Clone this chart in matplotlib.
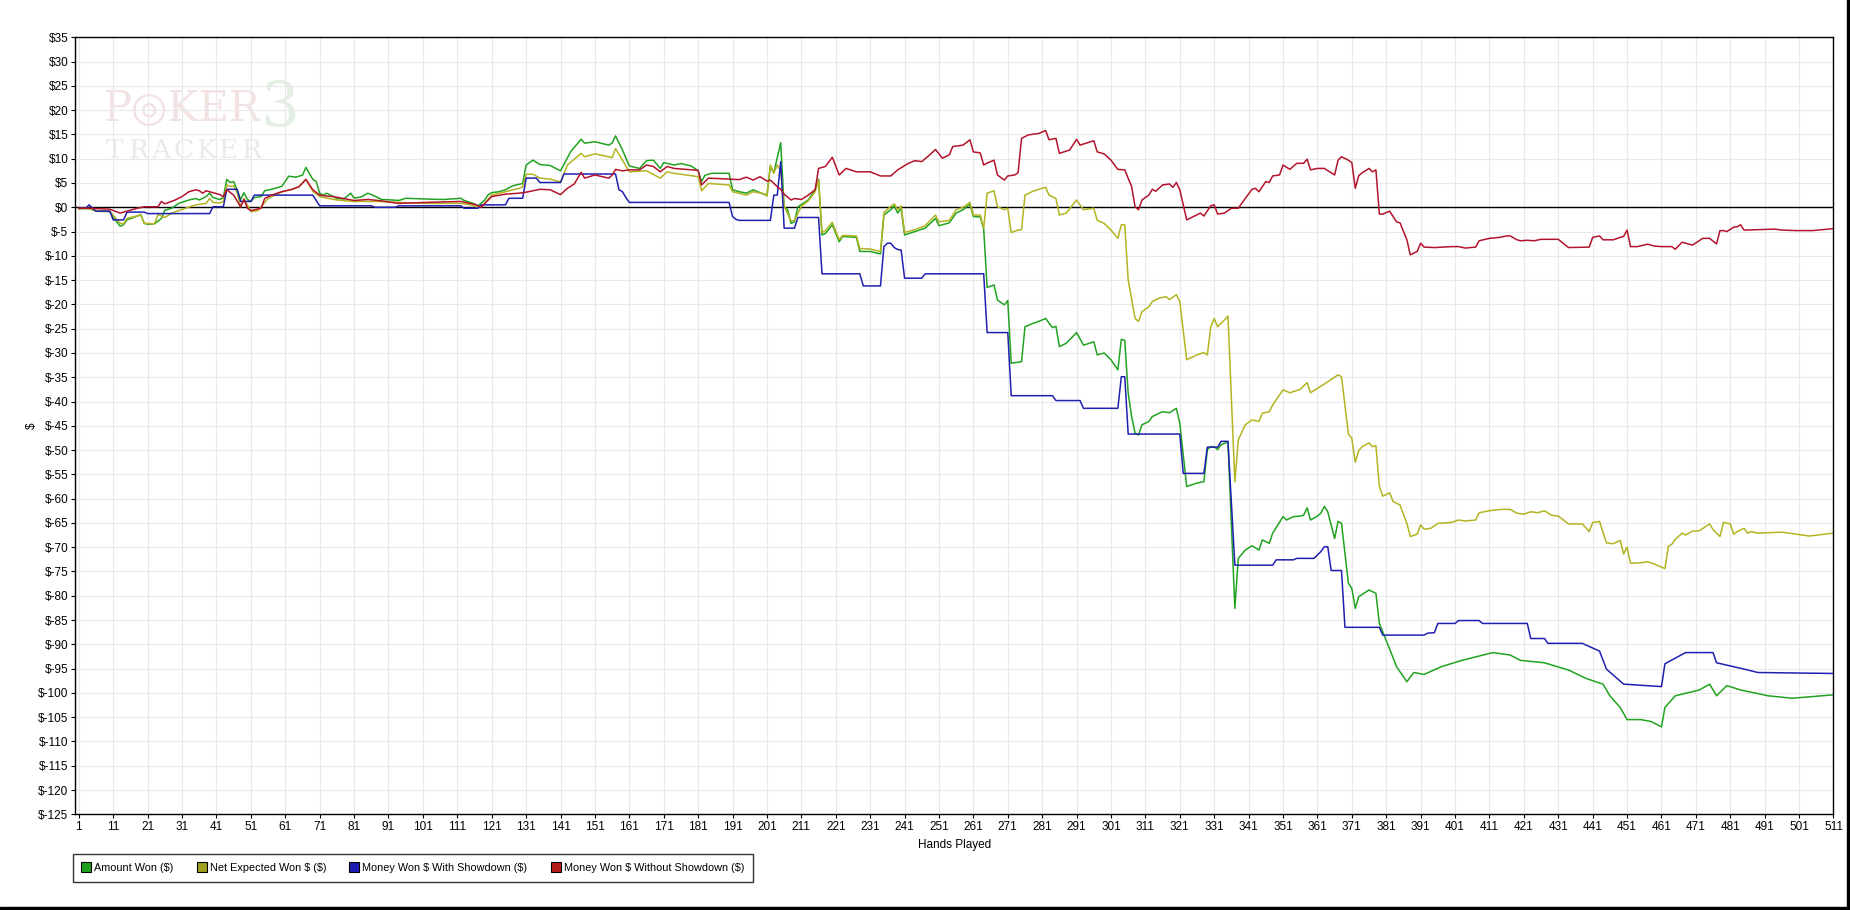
import matplotlib.pyplot as plt
from matplotlib.lines import Line2D
from matplotlib.patches import Rectangle

# values, hand number -> dollars
amount_hands = [1, 3, 4, 6, 10, 11, 12, 13, 14, 15, 18, 19, 20, 21, 23, 25, 26, 28, 30, 33, 35, 36, 38, 39, 40,
                42, 43, 44, 45, 46, 47, 48, 49, 50, 51, 52, 54, 55, 57, 60, 62, 64, 66, 67, 69, 70, 71, 72, 73, 75,
                76, 78, 80, 81, 83, 85, 87, 89, 92, 94, 96, 102, 107, 112, 113, 116, 117, 119, 120, 121, 123, 125,
                127, 130, 131, 133, 135, 138, 141, 144, 147, 148, 151, 155, 156, 157, 159, 161, 164, 166, 168, 170,
                171, 174, 176, 179, 181, 182, 183, 185, 190, 191, 193, 195, 197, 200, 201, 202, 203, 205, 206, 207,
                208, 209, 210, 213, 215, 216, 217, 218, 220, 222, 223, 227, 228, 231, 234, 235, 237, 238, 239, 240,
                241, 244, 247, 250, 251, 254, 256, 258, 260, 261, 263, 264, 265, 267, 268, 270, 271, 272, 275, 276,
                278, 280, 282, 284, 285, 286, 288, 291, 293, 296, 297, 299, 301, 303, 304, 305, 306, 307, 308, 309,
                310, 312, 313, 315, 316, 318, 320, 321, 323, 326, 328, 329, 330, 331, 332, 333, 335, 337, 338, 340,
                342, 344, 345, 347, 348, 351, 352, 354, 356, 357, 358, 359, 361, 362, 363, 364, 366, 367, 368, 370,
                371, 372, 373, 376, 378, 379, 381, 384, 387, 389, 392, 397, 403, 412, 417, 420, 427, 434, 439, 444,
                446, 449, 451, 455, 458, 461, 462, 465, 472, 475, 477, 480, 484, 492, 499, 511]
amount_won = [-0.3, -0.2, -0.3, -0.8, -0.9, -2.0, -3.0, -3.9, -3.6, -2.6, -1.8, -1.5, -3.3, -3.5, -3.4, -2.3, -0.6,
              -0.2, 0.8, 1.5, 1.8, 1.5, 2.2, 2.9, 2.0, 1.6, 2.0, 5.75, 5.1, 5.3, 3.6, 1.6, 3.0, 1.6, 1.2, 2.0, 2.2,
              3.4, 3.7, 4.3, 6.4, 6.2, 6.6, 8.2, 5.75, 5.3, 2.9, 2.5, 2.9, 2.2, 1.8, 1.7, 2.9, 1.9, 2.1, 2.9, 2.3,
              1.6, 1.5, 1.4, 1.85, 1.7, 1.6, 1.85, 1.4, 0.7, 0.3, 1.5, 2.6, 3.0, 3.2, 3.6, 4.4, 4.9, 8.7, 9.7, 8.8,
              8.6, 7.5, 11.5, 14.0, 13.2, 13.5, 12.8, 13.2, 14.7, 11.8, 8.5, 8.0, 9.6, 9.7, 8.0, 9.2, 8.7, 9.0, 8.5,
              7.5, 5.3, 6.6, 7.0, 7.0, 3.6, 3.2, 2.9, 3.6, 2.7, 2.5, 8.4, 7.1, 13.3, 0.1, -0.5, -3.3, -3.0, 0.1,
              1.5, 3.6, 5.8, -5.7, -5.4, -3.6, -7.1, -6.0, -6.2, -9.1, -9.1, -9.6, -1.6, -0.5, 0.3, -1.2, -0.2,
              -5.7, -5.0, -4.3, -2.3, -3.8, -3.2, -1.2, -0.5, 0.6, -1.9, -2.0, -4.5, -16.5, -16.0, -19.1, -20.1,
              -19.2, -32.1, -31.8, -24.6, -24.0, -23.5, -22.9, -24.8, -24.5, -28.7, -28.0, -25.8, -28.4, -27.7,
              -30.4, -30.0, -31.4, -33.5, -27.2, -27.4, -38.3, -43.1, -46.5, -46.9, -44.8, -44.1, -43.1, -42.4,
              -42.1, -42.3, -41.4, -44.5, -57.5, -56.8, -56.5, -49.9, -49.3, -49.3, -49.9, -48.9, -48.3, -82.6,
              -72.3, -70.6, -69.7, -70.6, -68.5, -69.2, -67.1, -63.7, -64.4, -63.7, -63.6, -63.4, -61.9, -64.4,
              -63.6, -63.0, -61.6, -62.7, -68.2, -64.7, -65.1, -77.4, -78.5, -82.6, -80.2, -78.8, -79.5, -85.7,
              -89.2, -94.6, -97.7, -95.8, -96.2, -94.6, -93.3, -91.7, -92.2, -93.3, -93.8, -95.3, -97.0, -98.2,
              -100.6, -103.0, -105.5, -105.5, -105.9, -107.0, -103.0, -100.6, -99.4, -98.2, -100.6, -98.5, -99.4,
              -100.6, -101.1, -100.4]

expected_hands = [1, 4, 6, 10, 12, 13, 14, 15, 19, 20, 23, 24, 26, 28, 32, 35, 38, 39, 40, 42, 43, 44, 45, 46, 47,
                  48, 49, 51, 53, 54, 56, 58, 60, 63, 65, 67, 69, 71, 73, 76, 81, 88, 94, 102, 112, 115, 117, 119,
                  121, 125, 129, 130, 131, 133, 135, 138, 141, 143, 147, 148, 151, 155, 156, 157, 159, 161, 166, 170,
                  172, 174, 179, 181, 182, 184, 190, 191, 195, 197, 200, 201, 202, 203, 204, 205, 206, 207, 208, 209,
                  211, 213, 215, 216, 217, 218, 220, 222, 223, 227, 228, 231, 234, 235, 237, 238, 239, 240, 241, 244,
                  247, 250, 251, 254, 256, 258, 260, 261, 263, 264, 265, 267, 268, 270, 271, 272, 274, 275, 276, 278,
                  280, 282, 283, 285, 286, 288, 291, 293, 296, 297, 299, 301, 303, 304, 305, 306, 308, 309, 310, 312,
                  313, 315, 317, 318, 320, 321, 323, 326, 328, 329, 330, 331, 332, 334, 335, 337, 338, 340, 342, 344,
                  345, 347, 348, 351, 353, 356, 358, 359, 363, 367, 368, 370, 371, 372, 373, 374, 376, 377, 378, 379,
                  380, 382, 383, 385, 387, 388, 390, 391, 392, 394, 396, 400, 402, 404, 407, 408, 411, 413, 415, 417,
                  419, 421, 423, 425, 427, 429, 431, 434, 438, 440, 441, 443, 445, 447, 449, 450, 451, 452, 455, 457,
                  459, 462, 463, 464, 465, 467, 468, 470, 472, 475, 476, 478, 479, 481, 482, 483, 485, 486, 487, 489,
                  496, 500, 504, 511]
expected_won = [-0.3, -0.3, -0.7, -0.8, -2.5, -3.3, -3.4, -2.3, -1.6, -3.3, -3.4, -1.5, -2.1, -1.2, -0.2, 0.5, 0.8,
                1.8, 1.0, 0.9, 1.2, 4.6, 4.3, 4.4, 3.0, 0.1, 1.8, -0.9, -0.7, 0.1, 1.8, 2.5, 3.2, 3.7, 4.25, 5.75,
                3.3, 2.2, 1.9, 1.5, 1.2, 1.2, 1.0, 0.8, 0.8, 0.5, -0.1, 0.8, 2.5, 3.2, 3.9, 4.2, 6.8, 6.8, 6.0, 5.8,
                5.2, 8.7, 11.1, 10.4, 11.0, 10.4, 10.2, 12.1, 9.7, 7.3, 7.5, 6.0, 7.3, 7.0, 6.5, 6.3, 3.4, 4.9, 4.6,
                3.2, 2.5, 3.2, 2.8, 2.3, 8.7, 7.0, 8.7, 7.5, 0.3, -1.3, -2.8, -2.7, 0.2, 1.3, 3.2, 5.6, -5.2, -4.8,
                -3.1, -6.7, -5.8, -5.9, -8.5, -8.6, -9.1, -1.1, 0.2, 0.7, -0.5, 0.3, -5.2, -4.6, -3.8, -1.6, -3.0,
                -2.7, -0.5, 0.0, 1.0, -1.6, -1.6, -4.3, 2.9, 3.4, 0.1, -0.5, -0.2, -5.2, -4.7, -4.6, 2.5, 3.2, 3.7,
                4.1, 2.5, 1.8, -1.6, -1.2, 1.5, -0.5, -0.2, -2.7, -3.3, -4.7, -6.4, -3.6, -3.6, -15.0, -22.9, -23.5,
                -21.5, -20.5, -19.4, -18.7, -18.4, -19.0, -18.0, -19.4, -31.4, -30.4, -29.9, -30.4, -24.6, -22.9,
                -24.6, -23.2, -22.4, -56.5, -47.9, -44.8, -43.8, -44.1, -42.4, -42.1, -40.7, -37.6, -38.2, -37.5,
                -36.1, -38.2, -36.4, -34.5, -34.9, -46.7, -47.6, -52.5, -50.1, -49.3, -48.5, -49.3, -49.1, -57.5,
                -59.5, -58.8, -60.6, -61.3, -65.1, -67.8, -67.3, -65.4, -66.3, -66.1, -65.1, -64.9, -64.4, -64.6,
                -64.4, -62.9, -62.5, -62.3, -62.2, -62.2, -63.0, -63.2, -62.7, -62.9, -62.5, -63.4, -63.6, -65.2,
                -65.2, -66.8, -64.9, -64.7, -69.1, -69.3, -68.6, -71.4, -70.0, -73.3, -73.2, -73.0, -73.5, -74.4,
                -69.8, -69.4, -68.4, -67.1, -67.5, -66.7, -66.6, -65.2, -66.4, -67.8, -64.9, -65.2, -67.3, -66.8,
                -66.1, -67.1, -66.8, -67.1, -66.9, -67.3, -67.7, -67.1]

showdown_hands = [1, 3, 4, 5, 6, 10, 11, 14, 15, 20, 21, 39, 40, 43, 44, 47, 48, 51, 52, 69, 71, 86, 87, 93, 94,
                  112, 113, 117, 118, 125, 126, 130, 131, 134, 135, 141, 142, 157, 158, 159, 160, 161, 190, 191, 192,
                  193, 202, 203, 204, 205, 206, 209, 210, 216, 217, 228, 229, 234, 235, 236, 237, 238, 239, 240, 241,
                  246, 247, 264, 265, 271, 272, 284, 285, 292, 293, 303, 304, 305, 306, 321, 322, 328, 329, 332, 333,
                  335, 337, 348, 349, 354, 355, 360, 362, 363, 364, 365, 368, 369, 379, 380, 392, 393, 395, 396, 401,
                  402, 408, 409, 422, 423, 427, 428, 438, 443, 445, 450, 461, 462, 468, 476, 477, 485, 489, 511]
showdown_won = [-0.2, -0.2, 0.5, -0.2, -0.8, -0.8, -2.6, -2.6, -1.0, -1.0, -1.3, -1.3, 0.1, 0.1, 3.7, 3.7, 1.2,
                1.2, 2.5, 2.5, 0.3, 0.3, 0.0, 0.0, 0.3, 0.3, -0.2, -0.2, 0.5, 0.5, 1.85, 1.85, 6.0, 6.0, 5.1, 5.1,
                6.85, 6.85, 3.6, 3.2, 2.0, 1.0, 1.0, -1.9, -2.5, -2.7, -2.7, 2.5, 2.5, 9.4, -4.3, -4.3, -2.1, -2.1,
                -13.7, -13.7, -16.2, -16.2, -8.1, -7.4, -7.4, -8.3, -8.7, -8.8, -14.6, -14.6, -13.7, -13.7, -25.8,
                -25.8, -38.8, -38.8, -39.8, -39.8, -41.4, -41.4, -34.9, -34.9, -46.7, -46.7, -54.8, -54.8, -49.4,
                -49.4, -48.2, -48.2, -73.7, -73.7, -72.6, -72.6, -72.3, -72.3, -70.9, -69.9, -69.9, -74.8, -74.8,
                -86.5, -86.5, -88.1, -88.1, -87.7, -87.6, -85.7, -85.7, -85.1, -85.1, -85.7, -85.7, -88.8, -88.8,
                -89.8, -89.8, -91.4, -95.1, -98.2, -98.7, -94.0, -91.7, -91.7, -93.8, -95.1, -95.8, -96.0]

no_showdown_hands = [1, 4, 10, 13, 15, 18, 20, 24, 25, 26, 29, 31, 33, 35, 36, 37, 38, 40, 42, 43, 44, 46, 48, 49,
                     50, 51, 54, 55, 57, 60, 63, 65, 67, 69, 71, 73, 75, 78, 81, 85, 88, 94, 102, 112, 116, 118, 119,
                     121, 125, 129, 131, 135, 138, 141, 143, 145, 147, 148, 151, 155, 156, 157, 159, 161, 164, 166,
                     168, 170, 172, 174, 179, 181, 182, 184, 190, 193, 195, 197, 199, 201, 202, 204, 205, 206, 208,
                     209, 211, 213, 215, 216, 218, 220, 222, 224, 227, 231, 234, 237, 239, 242, 244, 246, 248, 250,
                     252, 254, 255, 258, 260, 261, 263, 264, 265, 267, 268, 270, 271, 273, 274, 275, 277, 280, 282,
                     283, 285, 286, 289, 291, 292, 296, 297, 299, 301, 303, 305, 307, 308, 309, 310, 312, 313, 314,
                     316, 318, 319, 320, 321, 323, 325, 327, 328, 330, 331, 332, 334, 336, 338, 340, 342, 343, 344,
                     346, 347, 348, 350, 351, 353, 355, 357, 358, 359, 361, 363, 366, 367, 368, 370, 371, 372, 373,
                     374, 376, 377, 378, 379, 380, 382, 384, 385, 387, 388, 390, 391, 392, 395, 400, 402, 404, 407,
                     408, 411, 414, 416, 417, 419, 420, 422, 424, 426, 431, 434, 440, 441, 443, 444, 447, 449, 450,
                     451, 452, 454, 457, 459, 461, 464, 465, 467, 468, 470, 473, 475, 477, 478, 479, 480, 482, 483,
                     484, 485, 494, 496, 500, 505, 511]
no_showdown_won = [-0.2, -0.2, -0.4, -1.2, -0.8, -0.2, 0.1, 0.1, 1.2, 0.7, 1.5, 2.2, 3.2, 3.6, 3.4, 2.9, 3.4, 3.0,
                   2.6, 2.2, 3.6, 2.5, 0.1, 1.6, -0.2, -0.7, -0.2, 1.8, 2.5, 3.2, 3.7, 4.25, 5.75, 3.6, 2.5, 2.3,
                   2.2, 1.8, 1.4, 1.6, 1.4, 0.8, 1.0, 1.2, 0.6, 0.0, 0.8, 2.2, 2.7, 2.9, 3.1, 3.7, 3.6, 2.6, 3.9,
                   4.8, 7.2, 6.0, 6.65, 6.0, 6.6, 7.8, 7.5, 7.7, 7.7, 8.7, 8.4, 7.3, 8.4, 8.0, 7.7, 7.6, 4.6, 6.0,
                   5.8, 5.7, 6.2, 5.6, 6.3, 5.4, 5.6, 4.25, 3.7, 2.7, 1.5, 1.8, 1.6, 2.5, 3.6, 8.0, 8.4, 10.3, 6.65,
                   8.0, 7.3, 7.3, 6.45, 6.45, 7.7, 9.0, 9.6, 9.4, 10.6, 11.9, 10.1, 10.8, 12.5, 12.8, 13.9, 11.4,
                   11.2, 8.7, 9.1, 9.7, 6.65, 5.6, 6.45, 6.65, 7.1, 14.2, 14.9, 15.2, 15.8, 13.9, 14.2, 11.1, 11.8,
                   14.0, 12.8, 13.7, 11.4, 11.0, 9.7, 7.8, 7.7, 4.25, 0.1, -0.5, 1.5, 2.5, 3.7, 3.3, 4.6, 4.8, 4.1,
                   5.1, 3.6, -2.6, -1.9, -1.2, -1.8, 0.3, 0.5, -1.4, -1.2, -0.2, -0.2, 1.8, 3.7, 3.9, 3.2, 5.3, 5.1,
                   6.45, 6.65, 8.7, 7.8, 9.05, 9.05, 9.9, 7.7, 8.0, 8.0, 6.65, 9.7, 10.4, 9.7, 9.2, 3.9, 6.5, 7.1,
                   8.0, 7.3, 7.7, -1.4, -1.4, -0.8, -3.0, -3.2, -6.7, -9.8, -9.1, -7.4, -8.2, -8.3, -8.1, -8.1,
                   -8.4, -8.2, -6.9, -6.4, -6.2, -5.9, -5.9, -6.7, -6.9, -6.8, -6.9, -6.6, -6.6, -8.3, -8.2, -6.2,
                   -5.9, -6.7, -6.7, -6.2, -6.0, -4.7, -8.1, -8.1, -7.6, -8.0, -8.1, -8.1, -8.65, -7.2, -7.4, -7.8,
                   -6.4, -6.4, -7.55, -4.8, -4.8, -5.0, -4.1, -4.0, -3.6, -4.7, -4.5, -4.7, -4.8, -4.8, -4.4]

series_labels = ['Amount Won ($)', 'Net Expected Won $ ($)', 'Money Won $ With Showdown ($)',
                 'Money Won $ Without Showdown ($)']
series_colors = ['#21a321', '#b4b422', '#2020b0', '#b3142c']
legend_colors = ['#1ea01e', '#a0a020', '#1c1cb4', '#b41c1c']

x_ticks = list(range(1, 512, 10))
y_ticks = list(range(-125, 36, 5))

plt.rcParams['font.family'] = ['Liberation Sans', 'DejaVu Sans']


def no_math(s):
    # the labels carry literal dollar signs
    return s.replace('$', r'\$')


fig = plt.figure(figsize=(18.5, 9.1), dpi=100)
ax = fig.add_axes([75.4 / 1850, 1 - 814.3 / 910, (1833.5 - 75.4) / 1850, (814.3 - 37.3) / 910])

# faint logo watermark
ax.text(0.016, 0.935, 'P\u25CEKER', transform=ax.transAxes, fontsize=30, family='DejaVu Serif',
        color='#f3e2e2', va='top', ha='left', zorder=0.5)
for i, letter in enumerate('TRACKER'):
    ax.text(0.0175 + i * 0.0128, 0.870, letter, transform=ax.transAxes, fontsize=19,
            family='DejaVu Serif', color='#eaeaea', va='top', ha='left', zorder=0.5)
ax.text(0.105, 0.948, '3', transform=ax.transAxes, fontsize=44, family='DejaVu Serif',
        color='#e4efe4', va='top', ha='left', zorder=0.4)

ax.axhline(0, color='black', lw=1.0, zorder=1.5)

all_data = [(amount_hands, amount_won), (expected_hands, expected_won),
            (showdown_hands, showdown_won), (no_showdown_hands, no_showdown_won)]
for (hands, vals), color, label in zip(all_data, series_colors, series_labels):
    ax.plot(hands, vals, color=color, lw=1.1, label=no_math(label), zorder=2)

ax.set_xlim(0, 511)
ax.set_ylim(-125, 35)
ax.set_xticks(x_ticks)
ax.set_yticks(y_ticks)
ax.set_yticklabels([no_math(f'${v}') for v in y_ticks])
ax.tick_params(axis='both', labelsize=8.5, length=3, width=0.8, color='black', pad=2)
ax.grid(True, color='#e9e9e9', lw=0.8)
ax.set_axisbelow(True)
for spine in ax.spines.values():
    spine.set_linewidth(1.0)
    spine.set_color('black')

ax.set_xlabel('Hands Played', fontsize=8.5, labelpad=4)
ax.set_ylabel(no_math('$'), fontsize=8.5)
ax.yaxis.set_label_coords(-0.0212, 0.5)

handles = [Line2D([], [], marker='s', linestyle='none', markersize=6.5, markerfacecolor=c,
                  markeredgecolor='black', markeredgewidth=0.8) for c in legend_colors]
leg = fig.legend(handles, [no_math(s) for s in series_labels], loc='upper left',
                 bbox_to_anchor=(73 / 1850, 1 - 854 / 910),
                 ncol=4, fontsize=7.8, frameon=True, fancybox=False, borderaxespad=0,
                 handlelength=0.7, handletextpad=0.4, columnspacing=2.25, borderpad=0.85)
leg.get_frame().set_edgecolor('black')
leg.get_frame().set_linewidth(1.0)

# dark edge on right and bottom of the image
fig.patches.append(Rectangle((1847 / 1850, 0), 3 / 1850, 1, transform=fig.transFigure,
                             color='black', zorder=5))
fig.patches.append(Rectangle((0, 0), 1, 3 / 910, transform=fig.transFigure, color='black', zorder=5))

fig.savefig('out.png', dpi=100)
